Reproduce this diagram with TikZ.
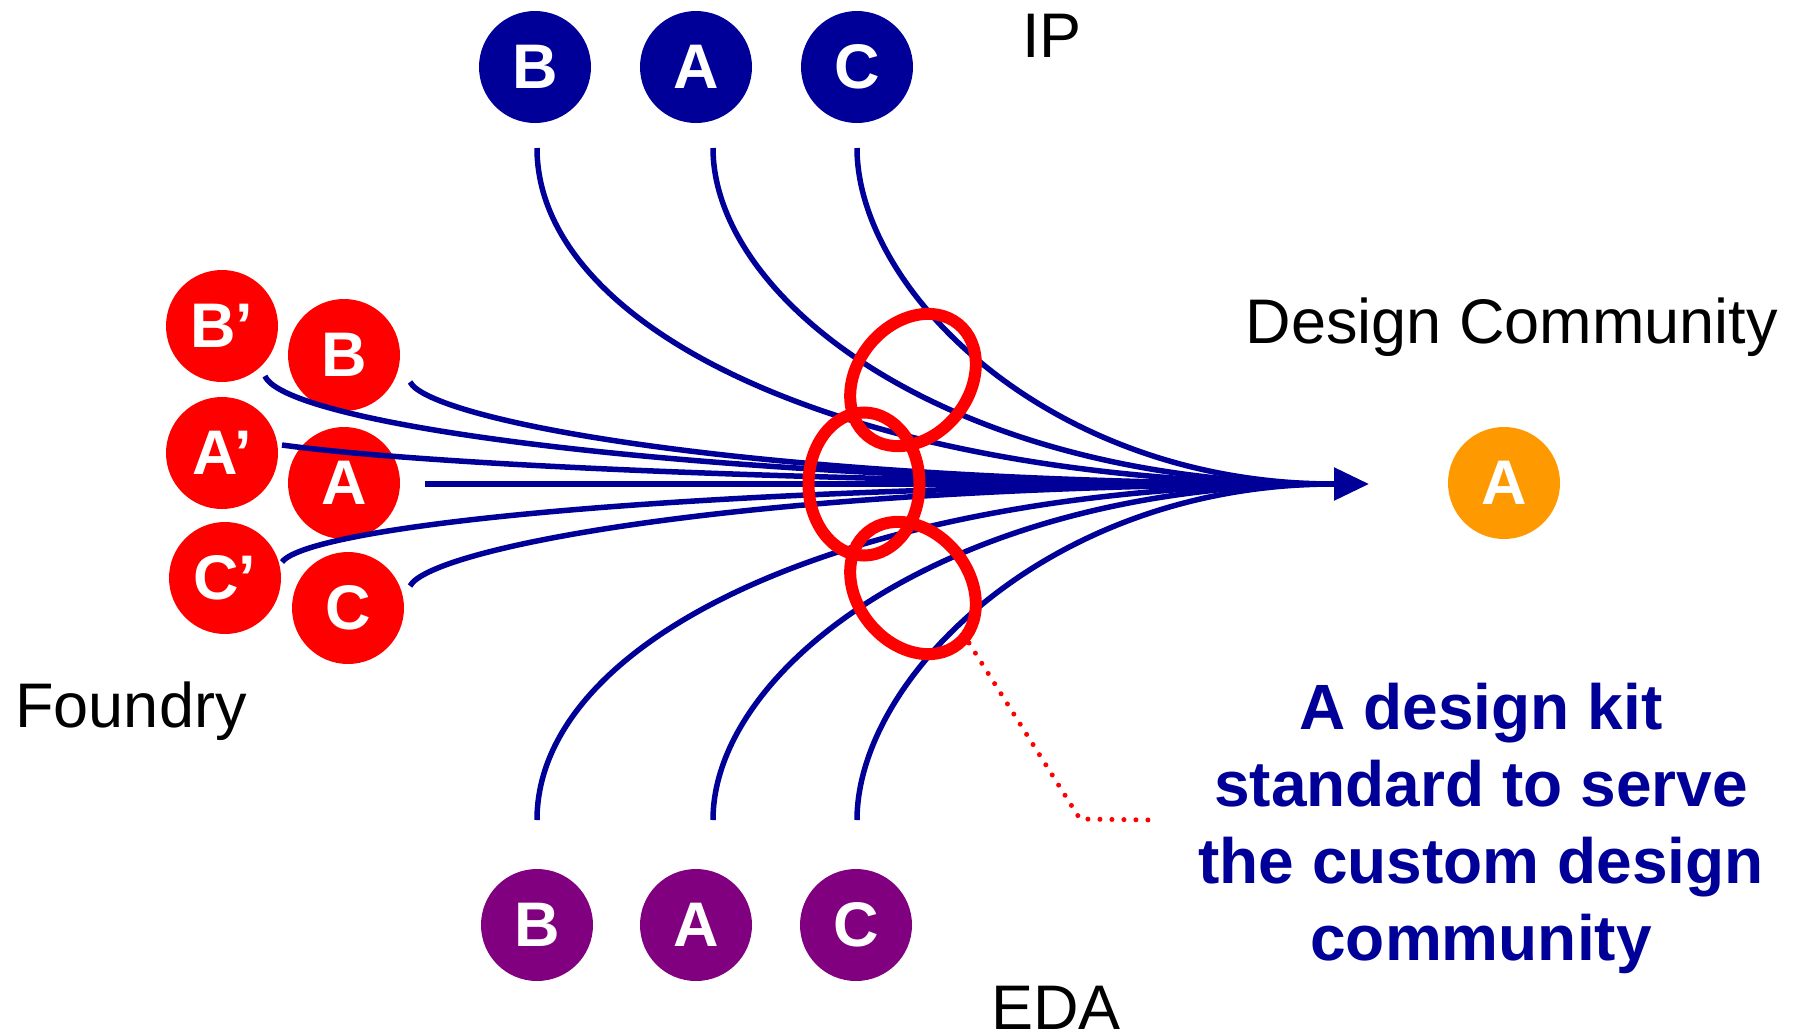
\documentclass[tikz,border=0pt]{standalone}
\usepackage{fontspec}
\setmainfont{Liberation Sans}
\usetikzlibrary{arrows.meta}

\definecolor{ipblue}{HTML}{000099}
\definecolor{edapurple}{HTML}{800080}
\definecolor{fabred}{HTML}{FF0000}
\definecolor{userorange}{HTML}{FF9900}

\tikzset{
  disc/.style={circle, minimum size=112pt, inner sep=0pt, text=white,
    font=\fontsize{63}{70}\selectfont\bfseries},
  tag/.style={inner sep=0pt, font=\fontsize{63}{76}\selectfont},
  note/.style={inner sep=0pt, align=center, text=ipblue,
    font=\fontsize{64}{76.7}\selectfont\bfseries},
  wire/.style={draw=ipblue, line width=5.5pt},
  ring/.style={draw=fabred, line width=12pt},
  callout/.style={draw=fabred, line width=5pt, line cap=round,
    dash pattern=on 0pt off 12pt}
}

\begin{document}
\begin{tikzpicture}[x=1pt,y=-1pt]
    \useasboundingbox (0,0) rectangle (1804,1034);
    % IP vendors
    \node[disc, fill=ipblue] (ipB) at (535,67) {B};
    \node[disc, fill=ipblue] (ipA) at (696,67) {A};
    \node[disc, fill=ipblue] (ipC) at (857,67) {C};
    \node[tag, anchor=base] (ip) at (1052,57) {IP};
    % EDA vendors
    \node[disc, fill=edapurple] (edaB) at (537,925) {B};
    \node[disc, fill=edapurple] (edaA) at (696,925) {A};
    \node[disc, fill=edapurple] (edaC) at (856,925) {C};
    \node[tag, anchor=base] (eda) at (1056,1029) {EDA};
    % foundries
    \node[disc, fill=fabred] (fBp) at (222,326) {B’};
    \node[disc, fill=fabred] (fB) at (344,355) {B};
    \node[disc, fill=fabred] (fAp) at (222,453) {A’};
    \node[disc, fill=fabred] (fA) at (344,483) {A};
    \node[disc, fill=fabred] (fCp) at (225,578) {C’};
    \node[disc, fill=fabred] (fC) at (348,608) {C};
    \node[tag, anchor=base] (fab) at (131,727) {Foundry};
    % design community
    \node[tag, anchor=base] (users) at (1512,343) {Design Community};
    \node[disc, fill=userorange] (user) at (1504,483) {A};

    \coordinate (hub) at (1334,484);
    \coordinate (tip) at (1369,484);

    % flows into the community
    \draw[wire] ([shift={(2,81)}]ipB.center) .. controls (537,330) and (850,484) .. (hub);
    \draw[wire] ([shift={(17,81)}]ipA.center) .. controls (713,300) and (950,484) .. (hub);
    \draw[wire] ([shift={(0,81)}]ipC.center) .. controls (857,290) and (1050,484) .. (hub);
    \draw[wire] ([shift={(0,-105)}]edaB.center) .. controls (537,638) and (850,484) .. (hub);
    \draw[wire] ([shift={(17,-105)}]edaA.center) .. controls (713,668) and (950,484) .. (hub);
    \draw[wire] ([shift={(1,-105)}]edaC.center) .. controls (857,678) and (1050,484) .. (hub);
    \draw[wire] ([shift={(43,50)}]fBp.center) .. controls (285,425) and (700,484) .. (hub);
    \draw[wire] ([shift={(66,27)}]fB.center) .. controls (430,420) and (750,484) .. (hub);
    \draw[wire] ([shift={(60,-8)}]fAp.center) .. controls (450,468) and (900,484) .. (hub);
    \draw[wire] ([shift={(81,1)}]fA.center) -- (hub);
    \draw[wire] ([shift={(57,-16)}]fCp.center) .. controls (310,525) and (700,484) .. (hub);
    \draw[wire] ([shift={(62,-22)}]fC.center) .. controls (430,548) and (750,484) .. (hub);
    \draw[wire, -{Triangle[length=35pt,width=32pt]}] (hub) -- (tip);

    % where the flows meet
    \draw[ring, rotate around={-39:(913,380)}] (913,380) ellipse [x radius=56, y radius=72];
    \draw[ring] (864,484) ellipse [x radius=55.5, y radius=71.5];
    \draw[ring, rotate around={39:(913,588)}] (913,588) ellipse [x radius=56, y radius=72];

    \coordinate (tail) at (969,643);
    \coordinate (kink) at (1080,819);
    \coordinate (tailend) at (1153,820);
    \draw[callout] (tail) -- (kink) -- (tailend);
    \node[note, anchor=base] (kit) at (1481,960) {A design kit\\standard to serve\\the custom design\\community};
\end{tikzpicture}
\end{document}
